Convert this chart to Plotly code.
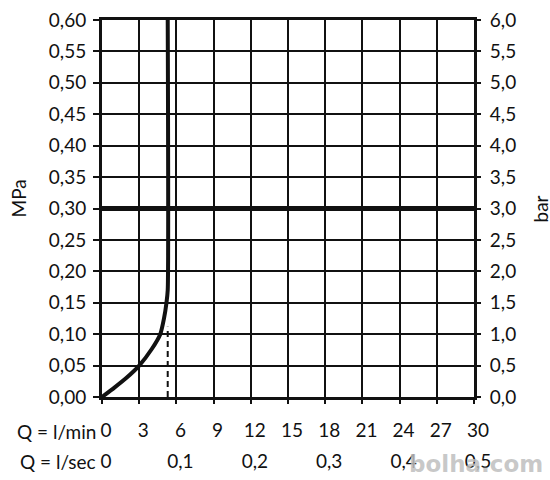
import plotly.graph_objects as go

# flow axis (l/min) and the matching l/sec labels
q_min_ticks = [0, 3, 6, 9, 12, 15, 18, 21, 24, 27, 30]
q_sec_pos = [0, 6, 12, 18, 24, 30]
q_sec_text = ["0", "0,1", "0,2", "0,3", "0,4", "0,5"]

# pressure axes
mpa_ticks = [0.00, 0.05, 0.10, 0.15, 0.20, 0.25, 0.30, 0.35, 0.40, 0.45, 0.50, 0.55, 0.60]
bar_ticks = [0.0, 0.5, 1.0, 1.5, 2.0, 2.5, 3.0, 3.5, 4.0, 4.5, 5.0, 5.5, 6.0]

# flow curve
curve_q = [0, 1, 2, 3, 4, 4.7, 5.0, 5.2, 5.3, 5.3]
curve_p = [0, 0.015, 0.031, 0.05, 0.076, 0.10, 0.125, 0.15, 0.17, 0.60]

# dashed drop line and the 0.3 MPa reference line
dash_q = [5.3, 5.3]
dash_p = [0, 0.112]
ref_q = [0, 30]
ref_p = [0.30, 0.30]

FONT = "Lato"
INK = "#111"

fig = go.Figure()
fig.add_scatter(x=ref_q, y=ref_p, mode="lines", line=dict(color=INK, width=5), showlegend=False)
fig.add_scatter(x=dash_q, y=dash_p, mode="lines", line=dict(color=INK, width=2, dash="6px,4px"), showlegend=False)
fig.add_scatter(x=curve_q, y=curve_p, mode="lines", line=dict(color=INK, width=4, shape="spline", smoothing=0.6),
                showlegend=False)
# invisible trace just to switch on the second x axis and right y axis
fig.add_scatter(x=[0, 30], y=[0, 6], xaxis="x2", yaxis="y2", mode="lines",
                line=dict(width=0), hoverinfo="skip", showlegend=False)

fig.update_layout(
    width=550, height=480,
    margin=dict(l=102, r=76, t=20, b=83),
    paper_bgcolor="white", plot_bgcolor="white",
    separators=",.",
    font=dict(family=FONT, size=19, color=INK),
    xaxis=dict(range=[0, 30], tickvals=q_min_ticks, ticks="outside", ticklen=4, tickwidth=2, tickcolor=INK,
               showgrid=True, gridcolor=INK, gridwidth=2, zeroline=False,
               showline=True, linecolor=INK, linewidth=3, mirror=True, automargin=False,
               ticklabelstandoff=10, ticklabelshift=4),
    xaxis2=dict(range=[0, 30], overlaying="x", side="bottom", anchor="y", tickvals=q_sec_pos,
                ticktext=q_sec_text, ticks="", showgrid=False, zeroline=False, showline=False, automargin=False,
                ticklabelstandoff=51, ticklabelshift=4),
    yaxis=dict(range=[0, 0.6], tickvals=mpa_ticks, tickformat=".2f", ticks="outside", ticklen=6, tickwidth=2,
               tickcolor=INK, showgrid=True, gridcolor=INK, gridwidth=2, zeroline=False,
               showline=True, linecolor=INK, linewidth=3, mirror=True, automargin=False,
               ticklabelstandoff=3),
    yaxis2=dict(range=[0, 6], overlaying="y", side="right", tickvals=bar_ticks, tickformat=".1f", ticks="outside",
                ticklen=6, tickwidth=2, tickcolor=INK, showgrid=False, zeroline=False, automargin=False,
                ticklabelstandoff=5),
)

fig.add_annotation(text="MPa", xref="paper", yref="paper", x=0, y=0.5, xanchor="center", yanchor="middle",
                   xshift=-84, yshift=10, textangle=-90, showarrow=False, font=dict(size=19))
fig.add_annotation(text="bar", xref="paper", yref="paper", x=1, y=0.5, xanchor="center", yanchor="middle",
                   xshift=66, yshift=-1, textangle=-90, showarrow=False, font=dict(size=19))
fig.add_annotation(text="Q = l/min", xref="paper", yref="paper", x=0, y=0, xanchor="right", yanchor="middle",
                   xshift=-4, yshift=-34, showarrow=False, font=dict(size=19))
fig.add_annotation(text="Q = l/sec", xref="paper", yref="paper", x=0, y=0, xanchor="right", yanchor="middle",
                   xshift=-4, yshift=-64, showarrow=False, font=dict(size=19))
fig.add_annotation(text="<b>bolha.com</b>", xref="paper", yref="paper", x=1, y=0, xanchor="right",
                   yanchor="middle", xshift=71, yshift=-67, showarrow=False,
                   font=dict(size=23, color="rgba(190,190,190,0.85)", family="DejaVu Sans"))

# page body has an 8px default margin; drop it so the figure sits at the window corner
fig.write_html("out.html", config={"displayModeBar": False},
               post_script="document.body.style.margin='0';")
